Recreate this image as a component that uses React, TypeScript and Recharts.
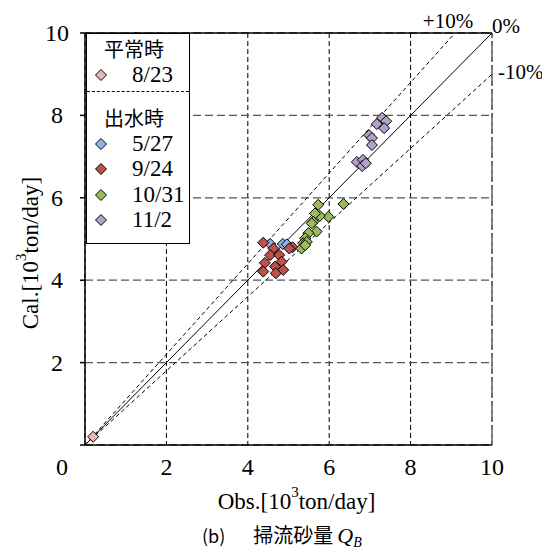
import React from 'react';
import { ScatterChart, Scatter, XAxis, YAxis, CartesianGrid, ReferenceLine } from 'recharts';

// legend groups / event names
const normalGroup = '平常時';
const floodGroup = '出水時';
const normalEvents = ['8/23'];
const floodEvents = ['5/27', '9/24', '10/31', '11/2'];
const eventColors: Record<string, string> = {
  '8/23': '#e6b9b8',
  '5/27': '#8db4e2',
  '9/24': '#c0504d',
  '10/31': '#9bbb59',
  '11/2': '#b3a2c7',
};

// [obs, cal] in 10^3 ton/day
const pts0823: [number, number][] = [[0.2, 0.2]];
const pts0527: [number, number][] = [
  [4.55, 4.88], [4.86, 4.88], [4.96, 4.87],
];
const pts0924: [number, number][] = [
  [4.38, 4.91], [4.63, 4.77], [5.1, 4.8], [5.02, 4.77], [4.55, 4.61], [4.77, 4.61],
  [4.42, 4.42], [4.83, 4.45], [4.67, 4.33], [4.38, 4.21], [4.69, 4.17], [4.87, 4.25],
];
const pts1031: [number, number][] = [
  [6.35, 5.85], [5.73, 5.83], [5.98, 5.54], [5.77, 5.56], [5.65, 5.62], [5.61, 5.42],
  [5.57, 5.38], [5.69, 5.18], [5.49, 5.14], [5.41, 5.02], [5.36, 4.9], [5.45, 4.93],
  [5.32, 4.77], [5.41, 4.85],
];
const pts1102: [number, number][] = [
  [7.3, 7.94], [7.4, 7.86], [7.17, 7.79], [7.35, 7.69], [6.98, 7.52], [7.05, 7.45],
  [7.05, 7.28], [6.68, 6.87], [6.83, 6.92], [6.81, 6.77], [6.9, 6.84],
];
const eventPoints: Record<string, [number, number][]> = {
  '8/23': pts0823,
  '5/27': pts0527,
  '9/24': pts0924,
  '10/31': pts1031,
  '11/2': pts1102,
};

const axisTicks = [0, 2, 4, 6, 8, 10];
const ratioLabels = ['+10%', '0%', '-10%'];
const ratioFactors = [1.1, 1.0, 0.9];

const serif = '"Liberation Serif", "Times New Roman", serif';
const cjk = '"Noto Sans CJK JP", sans-serif';

const diamond = (fill: string) => (props: any) => {
  const { cx, cy } = props;
  const r = 5.5;
  return (
    <path
      d={`M${cx},${cy - r}L${cx + r},${cy}L${cx},${cy + r}L${cx - r},${cy}Z`}
      fill={fill}
      stroke="#000"
      strokeWidth={1}
    />
  );
};

const XTick = (props: any) => {
  const { x, y, payload } = props;
  const tx = payload.value === 0 ? x - 23 : x;
  return (
    <text x={tx} y={y + 22} textAnchor="middle" dominantBaseline="central" fontFamily={serif} fontSize={24} fill="#000">
      {payload.value}
    </text>
  );
};

const YTick = (props: any) => {
  const { y, payload } = props;
  if (payload.value === 0) return null;
  return (
    <text x={49} y={y} textAnchor="middle" dominantBaseline="central" fontFamily={serif} fontSize={24} fill="#000">
      {payload.value}
    </text>
  );
};

const XTitle = (props: any) => {
  const vb = props.viewBox || { x: 77, y: 437, width: 407 };
  return (
    <text x={vb.x + vb.width / 2 + 8} y={vb.y + 56} textAnchor="middle" dominantBaseline="central" fontFamily={serif} fontSize={23} fill="#000">
      Obs.[10<tspan dy={-9} fontSize={15}>3</tspan><tspan dy={9}>ton/day]</tspan>
    </text>
  );
};

const YTitle = (props: any) => {
  const vb = props.viewBox || { x: 17, y: 25, height: 412 };
  const cx = 22;
  const cy = vb.y + vb.height / 2 + 14;
  return (
    <text x={cx} y={cy} transform={`rotate(-90 ${cx} ${cy})`} textAnchor="middle" dominantBaseline="central" fontFamily={serif} fontSize={23} fill="#000">
      Cal.[10<tspan dy={-9} fontSize={15}>3</tspan><tspan dy={9}>ton/day]</tspan>
    </text>
  );
};

const RatioLabel = (props: any) => {
  const { viewBox, text, factor } = props;
  if (!viewBox) return null;
  const ex = viewBox.x + viewBox.width;
  const ey = viewBox.y;
  let tx = ex, ty = ey - 7, anchor = 'start';
  if (factor > 1) { tx = ex - 7; ty = ey - 12; anchor = 'middle'; }
  if (factor < 1) { tx = ex + 6; ty = ey - 2; anchor = 'start'; }
  return (
    <text x={tx} y={ty} textAnchor={anchor} dominantBaseline="central" fontFamily={serif} fontSize={21} fill="#000">
      {text}
    </text>
  );
};

const LegendMarker = ({ color }: { color: string }) => (
  <svg width={14} height={14} style={{ position: 'absolute', left: 7, top: 6 }}>
    <path d="M7,1.5L12.5,7L7,12.5L1.5,7Z" fill={color} stroke="#000" strokeWidth={1} />
  </svg>
);

const LegendRow = ({ name }: { name: string }) => (
  <div style={{ position: 'relative', height: 25.5, lineHeight: '25.5px' }}>
    <LegendMarker color={eventColors[name]} />
    <span style={{ position: 'absolute', left: 45, fontFamily: serif, fontSize: 23 }}>{name}</span>
  </div>
);

const LegendHeader = ({ text }: { text: string }) => (
  <div style={{ height: 25.5, lineHeight: '25.5px', paddingLeft: 17, fontFamily: cjk, fontSize: 20 }}>{text}</div>
);

export default function App() {
  const allEvents = [...normalEvents, ...floodEvents];
  return (
    <div style={{ position: 'relative', width: 542, height: 544 }}>
      <ScatterChart width={542} height={544} margin={{ top: 25, right: 58, bottom: 47, left: 17 }}>
        <CartesianGrid horizontal={false} vertical stroke="#000" strokeDasharray="5 3" strokeWidth={1} />
        <CartesianGrid vertical={false} horizontal stroke="#555" strokeDasharray="8 4" strokeWidth={1.3} />
        <XAxis
          type="number"
          dataKey="x"
          domain={[0, 10]}
          ticks={axisTicks}
          tick={<XTick />}
          tickSize={0}
          tickMargin={0}
          height={60}
          stroke="#000"
          strokeWidth={1.5}
          label={<XTitle />}
        />
        <YAxis
          type="number"
          dataKey="y"
          domain={[0, 10]}
          ticks={axisTicks}
          tick={<YTick />}
          tickSize={5}
          width={60}
          stroke="#000"
          strokeWidth={1.5}
          label={<YTitle />}
        />
        <ReferenceLine y={10} stroke="#000" strokeWidth={1.3} />
        <ReferenceLine x={10} stroke="#666" strokeDasharray="8 4" strokeWidth={1.5} />
        {ratioFactors.map((f, i) => {
          const end = f >= 1 ? { x: 10 / f, y: 10 } : { x: 10, y: 10 * f };
          return (
            <ReferenceLine
              key={ratioLabels[i]}
              segment={[{ x: 0, y: 0 }, end]}
              stroke="#000"
              strokeWidth={1}
              strokeDasharray={f === 1 ? undefined : '4 3'}
              label={<RatioLabel text={ratioLabels[i]} factor={f} />}
            />
          );
        })}
        {allEvents.map((name) => (
          <Scatter
            key={name}
            name={name}
            data={eventPoints[name].map(([x, y]) => ({ x, y }))}
            shape={diamond(eventColors[name])}
            isAnimationActive={false}
          />
        ))}
      </ScatterChart>
      <div
        style={{
          position: 'absolute',
          left: 78,
          top: 25,
          width: 104,
          height: 211,
          border: '1.5px solid #000',
          background: '#fff',
          boxSizing: 'border-box',
        }}
      >
        <div style={{ paddingTop: 2, height: 58, boxSizing: 'border-box', borderBottom: '1px dashed #000' }}>
          <LegendHeader text={normalGroup} />
          {normalEvents.map((n) => <LegendRow key={n} name={n} />)}
        </div>
        <div style={{ paddingTop: 13 }}>
          <LegendHeader text={floodGroup} />
          {floodEvents.map((n) => <LegendRow key={n} name={n} />)}
        </div>
      </div>
      <div
        style={{
          position: 'absolute',
          left: 194,
          top: 514,
          height: 26,
          lineHeight: '26px',
          whiteSpace: 'nowrap',
          fontFamily: cjk,
          fontSize: 18,
          color: '#000',
        }}
      >
        (b)
        <span style={{ fontSize: 20, marginLeft: 28 }}>掃流砂量</span>
        <span style={{ fontFamily: serif, fontStyle: 'italic', fontSize: 22, marginLeft: 4 }}>
          Q
          <span style={{ fontSize: 14, position: 'relative', top: 4, lineHeight: 0 }}>B</span>
        </span>
      </div>
    </div>
  );
}
